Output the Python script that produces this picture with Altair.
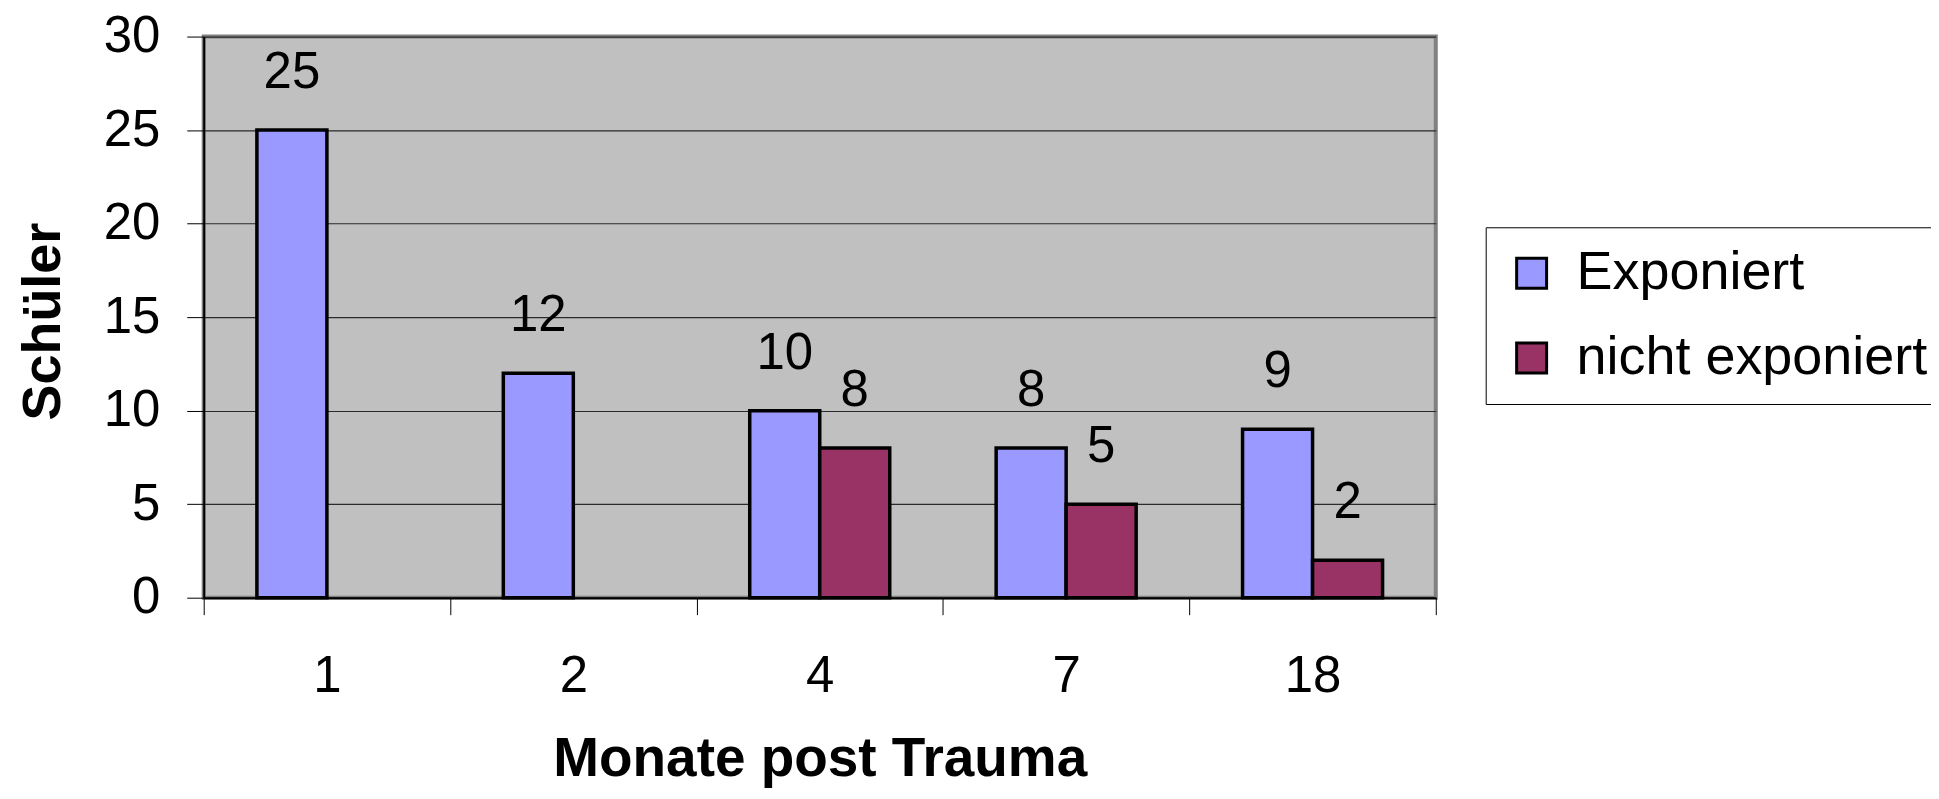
import altair as alt
import pandas as pd

months = ["1", "2", "4", "7", "18"]
series = ["Exponiert", "nicht exponiert"]
exponiert = [25, 12, 10, 8, 9]
nicht_exponiert = [None, None, 8, 5, 2]
colors = ["#9999FF", "#993366"]
y_ticks = [0, 5, 10, 15, 20, 25, 30]

rows = []
for m, a, b in zip(months, exponiert, nicht_exponiert):
    if a is not None:
        rows.append({"Monat": m, "Gruppe": series[0], "Wert": a})
    if b is not None:
        rows.append({"Monat": m, "Gruppe": series[1], "Wert": b})
df = pd.DataFrame(rows)

FONT = "Liberation Sans"

x = alt.X(
    "Monat:N",
    sort=months,
    scale=alt.Scale(paddingInner=0, paddingOuter=0),
    axis=alt.Axis(
        title="Monate post Trauma",
        labelAngle=0,
        tickBand="extent",
        labelFontSize=51,
        labelFont=FONT,
        labelColor="black",
        labelPadding=37,
        tickSize=17,
        tickColor="black",
        domainColor="black",
        domainWidth=2,
        titleFont=FONT,
        titleFontSize=55,
        titleFontWeight="bold",
        titleColor="black",
        titleX=617,
        titleY=178,
        titleBaseline="alphabetic",
        grid=False,
    ),
)
xoff = alt.XOffset(
    "Gruppe:N",
    sort=series,
    scale=alt.Scale(domain=series, paddingInner=0, paddingOuter=0.76),
)
y = alt.Y(
    "Wert:Q",
    scale=alt.Scale(domain=[0, 30], nice=False),
    axis=alt.Axis(
        title="Schüler",
        values=y_ticks,
        labelFontSize=51,
        labelFont=FONT,
        labelColor="black",
        labelPadding=27,
        tickSize=17,
        tickColor="black",
        domainColor="black",
        domainWidth=2,
        grid=True,
        gridColor="#2a2a2a",
        gridWidth=1.2,
        titleFont=FONT,
        titleFontSize=54,
        titleFontWeight="bold",
        titleColor="black",
        titleX=-144,
        titleY=285,
        titleBaseline="alphabetic",
    ),
)

bars = alt.Chart(df).mark_bar(stroke="black", strokeWidth=3.5).encode(
    x=x,
    xOffset=xoff,
    y=y,
    color=alt.Color(
        "Gruppe:N",
        scale=alt.Scale(domain=series, range=colors),
        legend=alt.Legend(
            title=None,
            orient="none",
            legendX=1284,
            legendY=191,
            direction="vertical",
            strokeColor="black",
            fillColor="white",
            padding=19,
            rowPadding=31,
            symbolType="square",
            symbolSize=900,
            symbolStrokeColor="black",
            symbolStrokeWidth=3,
            labelFont=FONT,
            labelFontSize=54,
            labelColor="black",
            labelOffset=18,
            labelLimit=0,
        ),
    ),
)

labels = alt.Chart(df).mark_text(
    baseline="alphabetic", dy=-42, fontSize=51, font=FONT, color="black"
).encode(
    x=alt.X("Monat:N", sort=months),
    xOffset=alt.XOffset("Gruppe:N", sort=series),
    y=alt.Y("Wert:Q"),
    text=alt.Text("Wert:Q"),
)

chart = (
    alt.layer(bars, labels)
    .properties(
        width=1234,
        height=562,
        padding={"left": 196, "top": 28, "right": 496, "bottom": 191},
        autosize=alt.AutoSizeParams(type="none"),
        background="white",
    )
    .configure_view(fill="#C0C0C0", stroke="#808080", strokeWidth=4)
)

chart.save("out.html", embed_options={"renderer": "svg", "actions": False})
